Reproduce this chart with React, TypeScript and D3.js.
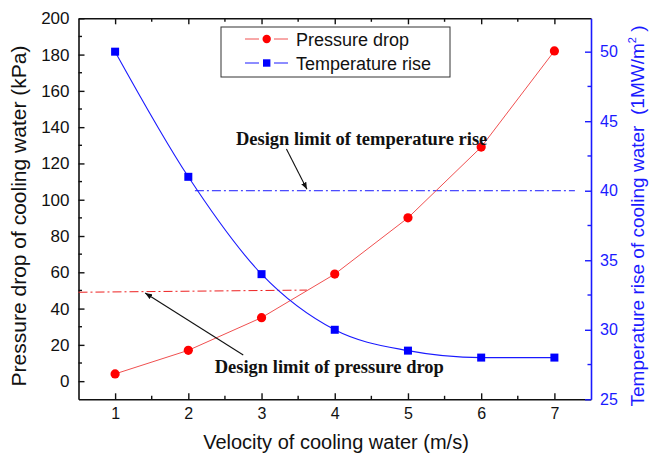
import React, { useRef, useEffect } from "react";
import * as d3 from "d3";

// velocity of cooling water (m/s)
const velocity = [1, 2, 3, 4, 5, 6, 7];
// pressure drop (kPa)
const pressureDrop = [4, 17, 35, 59, 90, 129, 182];
// temperature rise
const temperatureRise = [50, 41, 34, 30, 28.5, 28, 28];

const xTicks = [1, 2, 3, 4, 5, 6, 7];
const leftTicks = [0, 20, 40, 60, 80, 100, 120, 140, 160, 180, 200];
const rightTicks = [25, 30, 35, 40, 45, 50];

// design limits (dash-dot lines)
const pressureLimitX = [0.5, 3.62];
const pressureLimitY = [49, 50.2];
const tempLimitX = [2.09, 7.28];
const tempLimitY = [40, 40];

const W = 649;
const H = 458;
const margin = { left: 78.5, right: 58, top: 18.3, bottom: 58.7 };

const App = () => {
  const svgRef = useRef<SVGSVGElement>(null);

  useEffect(() => {
    const svg = d3.select(svgRef.current);
    svg.selectAll("*").remove();

    const x = d3.scaleLinear().domain([0.5, 7.5]).range([margin.left, W - margin.right]);
    const yL = d3.scaleLinear().domain([-10, 200]).range([H - margin.bottom, margin.top]);
    const yR = d3.scaleLinear().domain([25, 52.4]).range([H - margin.bottom, margin.top]);
    const x0 = margin.left, x1 = W - margin.right;
    const y0 = H - margin.bottom, y1 = margin.top;

    const sans = "Arial, 'Liberation Sans', sans-serif";
    const serif = "'Times New Roman', 'Liberation Serif', serif";

    const defs = svg.append("defs");
    defs.append("marker")
      .attr("id", "arrowHead")
      .attr("viewBox", "0 0 10 10")
      .attr("refX", 10).attr("refY", 5)
      .attr("markerWidth", 7).attr("markerHeight", 7)
      .attr("markerUnits", "userSpaceOnUse")
      .attr("orient", "auto")
      .append("path")
      .attr("d", "M0,1 L10,5 L0,9 Z")
      .attr("fill", "#111");

    const xMinor = [1.5, 2.5, 3.5, 4.5, 5.5, 6.5];

    // bottom axis
    const gx = svg.append("g").attr("transform", `translate(0,${y0})`)
      .call(d3.axisBottom(x).tickValues(xTicks).tickFormat(d3.format("d")).tickSizeInner(-6).tickSizeOuter(0).tickPadding(8));
    gx.select(".domain").attr("stroke", "#111").attr("stroke-width", 1.6);
    gx.selectAll(".tick line").attr("stroke", "#111").attr("stroke-width", 1.4);
    gx.selectAll("text").attr("font-family", sans).attr("font-size", 16).attr("fill", "#111");
    gx.selectAll(".minor")
      .data(xMinor)
      .enter().append("line")
      .attr("x1", d => x(d)).attr("x2", d => x(d))
      .attr("y1", 0).attr("y2", -3.5)
      .attr("stroke", "#111").attr("stroke-width", 1.4);

    // top axis (frame)
    const gt = svg.append("g").attr("transform", `translate(0,${y1})`)
      .call(d3.axisTop(x).tickValues(xTicks).tickFormat(() => "").tickSizeInner(-6).tickSizeOuter(0));
    gt.select(".domain").attr("stroke", "#111").attr("stroke-width", 1.6);
    gt.selectAll(".tick line").attr("stroke", "#111").attr("stroke-width", 1.4);
    gt.selectAll(".minor")
      .data(xMinor)
      .enter().append("line")
      .attr("x1", d => x(d)).attr("x2", d => x(d))
      .attr("y1", 0).attr("y2", 3.5)
      .attr("stroke", "#111").attr("stroke-width", 1.4);

    // left axis
    const gl = svg.append("g").attr("transform", `translate(${x0},0)`)
      .call(d3.axisLeft(yL).tickValues(leftTicks).tickSizeInner(-6).tickSizeOuter(0).tickPadding(9));
    gl.select(".domain").attr("stroke", "#111").attr("stroke-width", 1.6);
    gl.selectAll(".tick line").attr("stroke", "#111").attr("stroke-width", 1.4);
    gl.selectAll("text").attr("font-family", sans).attr("font-size", 17).attr("fill", "#111");
    gl.selectAll(".minor")
      .data(d3.range(10, 200, 20))
      .enter().append("line")
      .attr("y1", d => yL(d)).attr("y2", d => yL(d))
      .attr("x1", 0).attr("x2", 3.5)
      .attr("stroke", "#111").attr("stroke-width", 1.4);

    // right axis (blue)
    const blue = "#1a1aff";
    const gr = svg.append("g").attr("transform", `translate(${x1},0)`)
      .call(d3.axisRight(yR).tickValues(rightTicks).tickSizeInner(-6).tickSizeOuter(0).tickPadding(9));
    gr.select(".domain").attr("stroke", blue).attr("stroke-width", 1.6);
    gr.selectAll(".tick line").attr("stroke", blue).attr("stroke-width", 1.4);
    gr.selectAll("text").attr("font-family", sans).attr("font-size", 16).attr("fill", blue);
    gr.selectAll(".minor")
      .data([27.5, 32.5, 37.5, 42.5, 47.5])
      .enter().append("line")
      .attr("y1", d => yR(d)).attr("y2", d => yR(d))
      .attr("x1", 0).attr("x2", -3.5)
      .attr("stroke", blue).attr("stroke-width", 1.4);

    // axis titles
    svg.append("text")
      .attr("x", 336).attr("y", 449)
      .attr("text-anchor", "middle")
      .attr("font-family", sans).attr("font-size", 20).attr("fill", "#111")
      .text("Velocity of cooling water (m/s)");
    svg.append("text")
      .attr("transform", `translate(26,216) rotate(-90)`)
      .attr("text-anchor", "middle")
      .attr("font-family", sans).attr("font-size", 21).attr("fill", "#111")
      .text("Pressure drop of cooling water (kPa)");
    const rt = svg.append("text")
      .attr("transform", `translate(644,216) rotate(-90)`)
      .attr("text-anchor", "middle")
      .attr("font-family", sans).attr("font-size", 19).attr("fill", blue);
    rt.append("tspan").text("Temperature rise of cooling water\u00a0\u00a0(1MW/m");
    rt.append("tspan").attr("font-size", 11).attr("dy", -8).text("2");
    rt.append("tspan").attr("dy", 8).text("\u00a0)");

    // design limit lines
    svg.append("path")
      .datum(d3.zip(pressureLimitX, pressureLimitY))
      .attr("d", d3.line<number[]>().x(d => x(d[0])).y(d => yL(d[1])))
      .attr("fill", "none").attr("stroke", "#ee2020").attr("stroke-width", 1)
      .attr("stroke-dasharray", "9,3,2,3");
    svg.append("path")
      .datum(d3.zip(tempLimitX, tempLimitY))
      .attr("d", d3.line<number[]>().x(d => x(d[0])).y(d => yR(d[1])))
      .attr("fill", "none").attr("stroke", blue).attr("stroke-width", 1)
      .attr("stroke-dasharray", "9,3,2,3");

    // pressure drop series
    const pData = d3.zip(velocity, pressureDrop);
    svg.append("path")
      .datum(pData)
      .attr("d", d3.line<number[]>().x(d => x(d[0])).y(d => yL(d[1])))
      .attr("fill", "none").attr("stroke", "#f05050").attr("stroke-width", 1);
    svg.selectAll(".pdot")
      .data(pData)
      .enter().append("circle")
      .attr("cx", d => x(d[0])).attr("cy", d => yL(d[1]))
      .attr("r", 4.6).attr("fill", "#ff0000");

    // temperature rise series
    const tData = d3.zip(velocity, temperatureRise);
    svg.append("path")
      .datum(tData)
      .attr("d", d3.line<number[]>().x(d => x(d[0])).y(d => yR(d[1])).curve(d3.curveMonotoneX))
      .attr("fill", "none").attr("stroke", blue).attr("stroke-width", 1.1);
    svg.selectAll(".tsq")
      .data(tData)
      .enter().append("rect")
      .attr("x", d => x(d[0]) - 4).attr("y", d => yR(d[1]) - 4)
      .attr("width", 8).attr("height", 8).attr("fill", "#0000ff");

    // annotations
    svg.append("text")
      .attr("x", x(2.65)).attr("y", yR(43.3))
      .attr("font-family", serif).attr("font-weight", "bold").attr("font-size", 18.5).attr("fill", "#111")
      .text("Design limit of temperature rise");
    svg.append("line")
      .attr("x1", x(3.34)).attr("y1", yR(43.0))
      .attr("x2", x(3.62)).attr("y2", yR(40.1))
      .attr("stroke", "#111").attr("stroke-width", 1.1)
      .attr("marker-end", "url(#arrowHead)");
    svg.append("text")
      .attr("x", x(2.36)).attr("y", yL(4.5))
      .attr("font-family", serif).attr("font-weight", "bold").attr("font-size", 18.5).attr("fill", "#111")
      .text("Design limit of pressure drop");
    svg.append("line")
      .attr("x1", x(2.75)).attr("y1", yL(14.4))
      .attr("x2", x(1.41)).attr("y2", yL(48.6))
      .attr("stroke", "#111").attr("stroke-width", 1.1)
      .attr("marker-end", "url(#arrowHead)");

    // legend
    const lg = svg.append("g").attr("transform", "translate(221,27)");
    lg.append("rect").attr("width", 229).attr("height", 50)
      .attr("fill", "white").attr("stroke", "#333").attr("stroke-width", 1);
    const items = [
      { label: "Pressure drop", color: "#f05050", mark: "#ff0000", shape: "circle" },
      { label: "Temperature rise", color: blue, mark: "#0000ff", shape: "square" }
    ];
    items.forEach((it, i) => {
      const cy = 12 + i * 24;
      const g = lg.append("g").attr("transform", `translate(0,${cy})`);
      g.append("line").attr("x1", 24).attr("x2", 38).attr("y1", 0).attr("y2", 0).attr("stroke", it.color);
      g.append("line").attr("x1", 53).attr("x2", 67).attr("y1", 0).attr("y2", 0).attr("stroke", it.color);
      if (it.shape === "circle") {
        g.append("circle").attr("cx", 45.7).attr("cy", 0).attr("r", 4.2).attr("fill", it.mark);
      } else {
        g.append("rect").attr("x", 42).attr("y", -3.7).attr("width", 7.4).attr("height", 7.4).attr("fill", it.mark);
      }
      g.append("text").attr("x", 75).attr("y", 6.5)
        .attr("font-family", sans).attr("font-size", 18).attr("fill", "#111")
        .text(it.label);
    });
  }, []);

  return (
    <svg
      ref={svgRef}
      width={W}
      height={H}
      style={{ position: "absolute", left: 0, top: 0, background: "white" }}
    />
  );
};

export default App;
